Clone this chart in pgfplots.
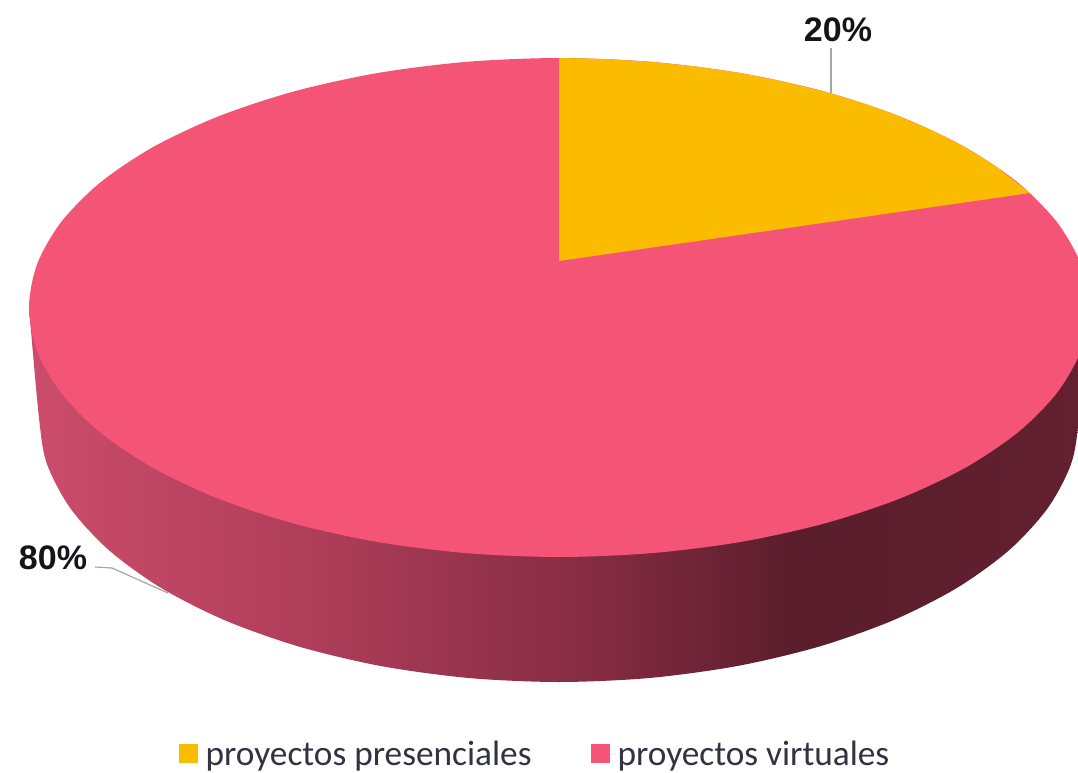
\documentclass[border=0pt]{standalone}
\usepackage{fontspec}
\setmainfont{Liberation Sans}
\newfontfamily\legfont{Carlito}
\usepackage{pgfplots}
\pgfplotsset{compat=1.18}

\definecolor{pieyellow}{RGB}{251,188,0}
\definecolor{piered}{RGB}{244,85,118}
\definecolor{leader}{RGB}{165,165,165}
\definecolor{labeltxt}{RGB}{20,20,25}
\definecolor{legtxt}{RGB}{50,50,65}

% side wall of the disc, dark towards the right
\pgfdeclarehorizontalshading{pwall}{100bp}{
  rgb(0bp)=(.80,.30,.42);
  rgb(25bp)=(.80,.30,.42);
  rgb(37.8bp)=(.68,.24,.35);
  rgb(50bp)=(.52,.17,.26);
  rgb(59bp)=(.35,.115,.17);
  rgb(75bp)=(.40,.13,.19);
  rgb(100bp)=(.40,.13,.19)}

\begin{document}
\begin{tikzpicture}
\begin{axis}[
  scale only axis,
  width=1078pt, height=773pt,
  xmin=0, xmax=1078, ymin=0, ymax=773,
  y dir=reverse,
  hide axis,
  clip=true,
  legend columns=2,
  legend cell align=left,
  legend style={
    draw=none, fill=none,
    at={(axis cs:535,754)}, anchor=center,
    font=\legfont\fontsize{35.3}{36}\selectfont,
    text=legtxt,
    inner sep=0pt, outer sep=0pt,
    /tikz/every even column/.style={column sep=57pt},
  },
  legend image code/.code={
    \fill[draw=none,#1] (0pt,-9pt) rectangle (19pt,10pt);
    \path[draw=none] (0pt,0pt) -- (25pt,0pt);
  },
]
  % wall
  \addplot[forget plot, draw=none, smooth, shade, shading=pwall] coordinates {
    (29,307.5)(39,418)(46.9,463.8)(70.4,508.3)(108.7,550)(160.7,587.7)
    (224.7,620.2)(299,646.6)(381.2,666.1)(468.7,678)(559,682)(649.3,678)
    (736.8,666.1)(819,646.6)(893.3,620.2)(957.3,587.7)(1009.3,550)
    (1047.6,508.3)(1071.1,463.8)(1079,418)(1089,307.5)(559,300)(29,307.5)
  };
  % top face, 80 %
  \addplot[forget plot, draw=none, fill=piered, smooth cycle] coordinates {
    (1089,307.5)(1080.9,350.8)(1057,392.8)(1018,432.3)(965,467.9)(899.7,498.6)
    (824,523.6)(740.3,542)(651,553.2)(559,557)(467,553.2)(377.7,542)(294,523.6)
    (218.3,498.6)(153,467.9)(100,432.3)(61,392.8)(37.1,350.8)(29,307.5)
    (37.1,264.2)(61,222.2)(100,182.7)(153,147.1)(218.3,116.4)(294,91.4)
    (377.7,73)(467,61.8)(559,58)(651,61.8)(740.3,73)(824,91.4)(899.7,116.4)
    (965,147.1)(1018,182.7)(1057,222.2)(1080.9,264.2)
  };
  % top face, 20 %
  \addplot[forget plot, draw=none, fill=pieyellow] coordinates {
    (559,261)(559,58)(605.2,59)(651,61.8)(696.2,66.5)(740.3,73)(783,81.4)
    (824,91.4)(863,103.1)(899.7,116.4)(933.8,131.1)(965,147.1)(993.2,164.4)
    (1030,193)(559,261)
  } --cycle;
  % leader lines
  \addplot[forget plot, draw=leader, line width=1.2pt] coordinates {(831,48)(831,93)};
  \addplot[forget plot, draw=leader, line width=1.2pt] coordinates {(95,567)(112,568)(168,593)};

  \addlegendimage{fill=pieyellow}
  \addlegendentry{proyectos presenciales}
  \addlegendimage{fill=piered}
  \addlegendentry{proyectos virtuales}

  \node[font=\bfseries\fontsize{34}{36}\selectfont, text=labeltxt] at (axis cs:838,30) {20\%};
  \node[font=\bfseries\fontsize{34}{36}\selectfont, text=labeltxt] at (axis cs:53,558) {80\%};
\end{axis}
\path (current axis.south west) rectangle (current axis.north east);
\end{tikzpicture}
\end{document}
